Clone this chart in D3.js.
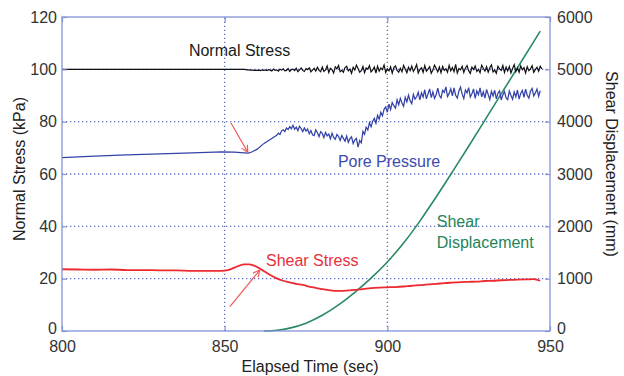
<!DOCTYPE html>
<html><head><meta charset="utf-8">
<script src="https://cdn.jsdelivr.net/npm/d3@7"></script>
<style>body{margin:0;background:#fff}svg{display:block}text{font-family:"Liberation Sans",Arial,sans-serif}</style>
</head><body>
<svg id="c" width="624" height="376"></svg>
<script>
// ---- data ----
const xTicks = [800, 850, 900, 950];
const yTicks = [0, 20, 40, 60, 80, 100, 120];
const y2Ticks = [0, 1000, 2000, 3000, 4000, 5000, 6000];
const gridY = [20, 40, 60, 80, 100];
const gridX = [850, 900];

// Normal stress: flat part, then sampled every 0.5 s from 856
const normalFlatT = [800, 820, 840, 855.5];
const normalFlatV = [100.0, 100.0, 100.0, 100.0];
const normalT0 = 856, normalStep = 0.5;
const normalV = [100, 99.9, 99.8, 99.8, 99.7, 99.7, 99.6, 99.7, 99.6, 99.7, 99.5, 99.8, 99.6,
 99.8, 99.5, 99.9, 99.7, 99.4, 100.1, 99.6, 99.8, 99.3, 100.0, 99.7, 100.2, 99.4, 99.6, 100.3, 99.2, 99.9, 100.1, 99.5, 100.4, 99.1, 99.8, 100.5, 99.6, 99.2, 100.3, 99.9, 100.6, 99.0, 99.7, 100.4, 99.3, 100.8, 99.6, 99.1,
 100.9, 99.2, 99.8, 101.3, 98.8, 100.4, 99.9, 98.6, 101.0, 100.2, 101.5, 99.1, 99.6, 98.9, 100.7, 101.2, 99.4, 100.1, 98.5, 100.8,
 99.7, 101.6, 100.3, 98.9, 99.5, 101.1, 98.7, 100.6, 100.0, 101.4, 99.0, 99.8, 100.9, 98.6, 101.2, 99.3, 100.5, 99.9, 101.7, 98.8,
 100.2, 99.4, 101.0, 98.5, 100.7, 101.3, 99.6, 98.9, 100.4, 99.1, 101.5, 100.0, 98.7, 100.8, 99.5, 101.2, 99.2, 100.3, 101.8, 98.6,
 99.9, 100.6, 98.8, 101.4, 99.3, 100.1, 101.0, 98.5, 99.7, 101.6, 100.4, 99.0, 100.9, 98.7, 101.1, 99.6, 100.2, 98.9, 101.5, 99.4,
 100.7, 99.1, 101.9, 98.6, 100.3, 99.8, 101.2, 98.8, 100.5, 101.4, 99.5, 98.4, 100.8, 99.9, 101.3, 99.2, 100.0, 98.7, 101.6, 100.4,
 99.3, 101.0, 98.9, 100.6, 101.7, 99.0, 99.7, 98.5, 101.2, 100.2, 99.6, 101.5, 98.8, 100.9, 99.4, 101.1, 98.6, 100.3, 101.8, 99.1,
 100.5, 98.9, 101.3, 99.8, 100.7, 98.6, 101.0, 99.5, 100.2, 101.4, 98.8, 99.9, 100.8, 99.3, 101.2, 100.1];

// Pore pressure: smooth part, then sampled every 0.5 s from 866.5
const poreSmoothT = [800, 810, 820, 830, 840, 849, 853, 856, 857.3, 858.5, 860, 862, 864, 866];
const poreSmoothV = [66.3, 66.8, 67.3, 67.7, 68.1, 68.5, 68.4, 68.1, 68.0, 68.5, 69.5, 71.6, 73.2, 74.8];
const poreT0 = 866.5, poreStep = 0.5;
const poreV = [75.6, 75.1, 76.5, 76.9, 76.2, 77.6, 77.0, 78.1,
 77.3, 78.6, 77.1, 77.9, 76.6, 78.2, 77.4, 76.2, 77.6, 76.4,
 77.2, 75.4, 76.6, 75.0, 74.7, 76.9, 75.8, 74.3, 76.2, 75.5, 73.9, 75.9, 74.6, 75.3, 73.4, 75.6, 74.0, 73.3, 75.1, 74.4, 72.8, 74.7, 73.6, 72.5, 74.5, 72.1, 73.5, 74.2, 71.6, 73.0,
 73.6, 70.3, 72.8, 71.9,
 76.3, 75.2, 77.9, 76.8, 79.6, 78.0, 80.2, 81.3, 79.4, 82.4, 81.0, 83.6, 82.2, 84.7, 85.6, 83.6,
 86.7, 84.6, 87.3, 86.1, 85.2, 88.4, 86.5, 88.9, 87.1, 85.9, 89.3, 87.6, 90.1, 88.0, 86.9, 90.4, 88.6, 89.5, 91.2,
 88.3, 91.0, 89.4, 92.2, 88.7, 90.6, 92.5, 89.2, 91.4, 88.9, 90.3, 92.8, 90.0, 89.1, 92.0, 91.2, 93.3, 89.6, 90.8, 92.6, 89.9,
 92.9, 90.1, 89.0, 91.7, 93.2, 90.5, 88.8, 92.1, 91.0, 93.0, 89.4, 90.7, 92.5, 88.9, 91.8, 90.3, 92.9, 89.5, 91.4,
 89.0, 92.3, 90.4, 88.5, 91.6, 89.8, 92.0, 88.7, 90.9, 91.8, 88.3, 90.2, 91.5, 89.1, 88.4, 91.7, 90.0, 88.6, 91.3,
 89.5, 92.1, 88.6, 90.8, 91.9, 89.3, 92.4, 90.1, 89.0, 91.6, 92.7, 89.8, 91.0, 92.5, 89.7, 91.8];

// Shear stress
const shearT = [800, 805, 810, 815, 820, 825, 830, 835, 840, 845, 849, 851, 853, 854.5, 856, 857.5, 859, 860.5, 862, 864, 866, 868, 870, 872, 874, 876, 878, 880, 882.5, 885, 887.5, 890, 892.5, 895, 897.5, 900, 902.5, 905, 907.5, 910, 912.5, 915, 917.5, 920, 922.5, 925, 927.5, 930, 932.5, 935, 937.5, 940, 942.5, 945, 947];
const shearV = [23.6, 23.5, 23.4, 23.5, 23.3, 23.3, 23.2, 23.2, 23.0, 23.0, 23.0, 23.3, 24.2, 25.0, 25.5, 25.5, 25.0, 24.1, 22.9, 21.4, 20.1, 19.2, 18.6, 18.0, 17.6, 17.0, 16.5, 16.0, 15.5, 15.3, 15.4, 15.7, 16.0, 16.4, 16.6, 16.7, 16.8, 17.0, 17.3, 17.5, 17.8, 18.0, 18.3, 18.5, 18.7, 18.8, 18.9, 19.1, 19.2, 19.4, 19.5, 19.6, 19.7, 19.8, 19.2];

// Shear displacement (right axis, mm)
const dispT = [862, 866, 870, 875, 880, 885, 890, 895, 900, 905, 910, 915, 920, 925, 930, 935, 940, 945, 947];
const dispV = [0, 15, 55, 150, 300, 500, 740, 1010, 1320, 1680, 2100, 2560, 3040, 3530, 4030, 4530, 5030, 5530, 5730];

// Annotations (data coordinates)
const labels = [
  {text: "Normal Stress", t: 839, v: 107.4, color: "#1a1a1a"},
  {text: "Pore Pressure", t: 884.8, v: 64.7, color: "#3a4bb0"},
  {text: "Shear Stress", t: 862.7, v: 27.1, color: "#e8303a"},
  {text: "Shear", t: 915.2, v: 41.8, color: "#23855a"},
  {text: "Displacement", t: 915.2, v: 34.1, color: "#23855a"}
];
const arrows = [
  {t1: 851.9, v1: 79.6, t2: 857.1, v2: 68.3},
  {t1: 851.6, v1: 9.3, t2: 860.8, v2: 23.3}
];

// ---- chart ----
const svg = d3.select("#c");
const x = d3.scaleLinear().domain([800, 950]).range([62, 550]);
const y = d3.scaleLinear().domain([0, 120]).range([331, 17]);
const y2 = d3.scaleLinear().domain([0, 6000]).range([331, 17]);
const axisColor = "#8592d4";
const gridColor = "#5f70c8";

// grid
svg.append("g").selectAll("line").data(gridY).join("line")
  .attr("x1", x(800)).attr("x2", x(950)).attr("y1", d => y(d)).attr("y2", d => y(d))
  .attr("stroke", gridColor).attr("stroke-width", 1.3).attr("stroke-dasharray", "1.3,2.7");
svg.append("g").selectAll("line").data(gridX).join("line")
  .attr("y1", y(0)).attr("y2", y(120)).attr("x1", d => x(d)).attr("x2", d => x(d))
  .attr("stroke", gridColor).attr("stroke-width", 1.3).attr("stroke-dasharray", "1.3,2.7");

const zipT = (ts, vs) => ts.map((t, i) => [t, vs[i]]);
const stepPts = (t0, s, vs) => vs.map((v, i) => [t0 + i * s, v]);
const lineLin = d3.line().x(d => x(d[0])).y(d => y(d[1]));
const lineSmooth = d3.line().x(d => x(d[0])).y(d => y(d[1])).curve(d3.curveMonotoneX);

// shear displacement (green)
svg.append("path").datum(zipT(dispT, dispV))
  .attr("d", d3.line().x(d => x(d[0])).y(d => y2(d[1])).curve(d3.curveMonotoneX))
  .attr("fill", "none").attr("stroke", "#2a8a62").attr("stroke-width", 1.6);

// shear stress (red)
svg.append("path").datum(zipT(shearT, shearV))
  .attr("d", lineSmooth)
  .attr("fill", "none").attr("stroke", "#ec2a30").attr("stroke-width", 1.8);

// pore pressure (blue)
svg.append("path").datum(zipT(poreSmoothT, poreSmoothV).concat(stepPts(poreT0, poreStep, poreV)))
  .attr("d", lineLin).attr("fill", "none").attr("stroke", "#3342a8").attr("stroke-width", 1.25);

// normal stress (black)
svg.append("path").datum(zipT(normalFlatT, normalFlatV).concat(stepPts(normalT0, normalStep, normalV)))
  .attr("d", lineLin).attr("fill", "none").attr("stroke", "#111").attr("stroke-width", 1.2);

// arrows
const defs = svg.append("defs");
defs.append("marker").attr("id", "ah").attr("viewBox", "0 0 10 10").attr("refX", 9).attr("refY", 5)
  .attr("markerWidth", 7).attr("markerHeight", 7).attr("orient", "auto")
  .append("path").attr("d", "M1,1 L9,5 L1,9").attr("fill", "none").attr("stroke", "#f05a5a").attr("stroke-width", 1.4);
svg.append("g").selectAll("line").data(arrows).join("line")
  .attr("x1", d => x(d.t1)).attr("y1", d => y(d.v1)).attr("x2", d => x(d.t2)).attr("y2", d => y(d.v2))
  .attr("stroke", "#f05a5a").attr("stroke-width", 1.2).attr("marker-end", "url(#ah)");

// labels
svg.append("g").selectAll("text").data(labels).join("text")
  .attr("x", d => x(d.t)).attr("y", d => y(d.v)).attr("dy", "0.36em")
  .attr("fill", d => d.color).attr("font-size", 16).text(d => d.text);

// axes
function styleAxis(g) {
  g.selectAll(".domain").remove();
  g.selectAll(".tick line").attr("stroke", axisColor).attr("stroke-width", 1.2);
  g.selectAll(".tick text").attr("fill", "#333").attr("font-size", 16);
}
svg.append("g").attr("transform", `translate(${x(800)},0)`)
  .call(d3.axisLeft(y).tickValues(yTicks).tickSize(-5).tickPadding(5).tickFormat(d3.format("d"))).call(styleAxis)
  .call(g => g.selectAll(".tick text").filter(d => d === 0).attr("dy", "0.18em"));
svg.append("g").attr("transform", `translate(${x(950)},0)`)
  .call(d3.axisRight(y2).tickValues(y2Ticks).tickSize(-5).tickPadding(7).tickFormat(d3.format("d"))).call(styleAxis)
  .call(g => g.selectAll(".tick text").filter(d => d === 0).attr("dy", "0.18em"));
svg.append("g").attr("transform", `translate(0,${y(0)})`)
  .call(d3.axisBottom(x).tickValues(xTicks).tickSize(-5).tickPadding(10).tickFormat(d3.format("d"))).call(styleAxis);
// top ticks
svg.append("g").attr("transform", `translate(0,${y(120)})`)
  .call(d3.axisTop(x).tickValues(xTicks).tickSize(-5).tickFormat(""))
  .call(styleAxis);

// box
svg.append("rect").attr("x", x(800)).attr("y", y(120)).attr("width", x(950) - x(800)).attr("height", y(0) - y(120))
  .attr("fill", "none").attr("stroke", axisColor).attr("stroke-width", 1.3);

// titles
svg.append("text").attr("x", 310).attr("y", 366).attr("dy", "0.36em").attr("text-anchor", "middle")
  .attr("font-size", 16).attr("fill", "#222").text("Elapsed Time (sec)");
svg.append("text").attr("transform", "translate(19,169) rotate(-90)").attr("dy", "0.36em").attr("text-anchor", "middle")
  .attr("font-size", 16).attr("fill", "#222").text("Normal Stress (kPa)");
svg.append("text").attr("transform", "translate(612,164) rotate(90)").attr("dy", "0.36em").attr("text-anchor", "middle")
  .attr("font-size", 16).attr("fill", "#222").text("Shear Displacement (mm)");
</script>
</body></html>
